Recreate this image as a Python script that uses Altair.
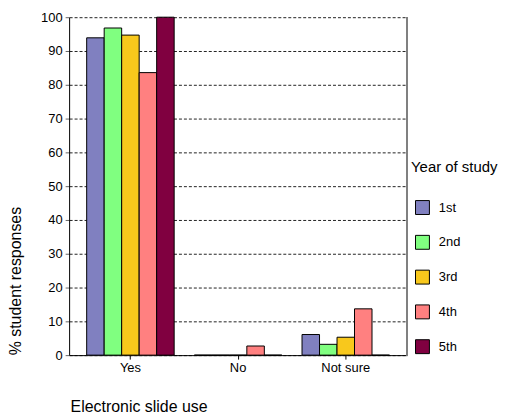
import altair as alt
import pandas as pd

categories = ["Yes", "No", "Not sure"]
years = ["1st", "2nd", "3rd", "4th", "5th"]
v_1st = [93.9, 0.0, 6.1]
v_2nd = [96.8, 0.0, 3.2]
v_3rd = [94.7, 0.0, 5.3]
v_4th = [83.6, 2.7, 13.7]
v_5th = [100.0, 0.0, 0.0]
colors = ["#8080C0", "#80FF80", "#F8C81C", "#FF8080", "#800040"]
y_ticks = list(range(0, 101, 10))

series = [v_1st, v_2nd, v_3rd, v_4th, v_5th]
rows = []
for yr, vals in zip(years, series):
    for c, v in zip(categories, vals):
        rows.append({"cat": c, "year": yr, "value": v})
df = pd.DataFrame(rows)

FONT = "Liberation Sans"

bars = alt.Chart(df).mark_bar(stroke="black", strokeWidth=1).encode(
    x=alt.X("cat:N", sort=categories,
            scale=alt.Scale(paddingInner=0.1875, paddingOuter=0.163),
            axis=alt.Axis(title="Electronic slide use", labelAngle=0, tickSize=4,
                          labelPadding=2, labelFontSize=13, labelColor="black",
                          domainColor="black", tickColor="black",
                          titleFontSize=16, titleFontWeight="normal", titleColor="black",
                          titleAlign="left", titleBaseline="middle", titleX=1, titleY=52)),
    xOffset=alt.XOffset("year:N", sort=years,
                        scale=alt.Scale(paddingInner=0, paddingOuter=0)),
    y=alt.Y("value:Q", scale=alt.Scale(domain=[0, 100], nice=False),
            axis=alt.Axis(title="% student responses", values=y_ticks, grid=True,
                          gridDash=[3, 2], gridColor="#222", gridOpacity=1,
                          tickSize=4, tickColor="#666", labelPadding=3,
                          labelFontSize=13, labelColor="black", domainColor="black",
                          titleFontSize=16, titleFontWeight="normal", titleColor="black",
                          titleAngle=270, titleAlign="center", titleBaseline="middle",
                          titleX=-53.5, titleY=265)),
    color=alt.Color("year:N", sort=years,
                    scale=alt.Scale(domain=years, range=colors),
                    legend=alt.Legend(title="Year of study", orient="none",
                                      legendX=344, legendY=144,
                                      symbolType="square", symbolSize=196,
                                      symbolStrokeColor="black", symbolStrokeWidth=1,
                                      symbolOpacity=1, symbolOffset=4,
                                      labelOffset=9, labelFontSize=13, labelColor="black",
                                      titleFontSize=15, titleFontWeight="normal",
                                      titleColor="black", titlePadding=25,
                                      rowPadding=16, padding=0)),
)

right_border = alt.Chart(df).mark_rule(color="#808080", strokeWidth=1.5).encode(
    x=alt.value(340), y=alt.value(0), y2=alt.value(340)
)

chart = alt.layer(bars, right_border).properties(
    width=340, height=340,
    autosize=alt.AutoSizeParams(type="none"),
    padding={"left": 61.5, "top": 8, "right": 91.5, "bottom": 62},
).configure(font=FONT).configure_view(stroke=None)

chart.save("out.html", embed_options={"renderer": "svg", "actions": False})
